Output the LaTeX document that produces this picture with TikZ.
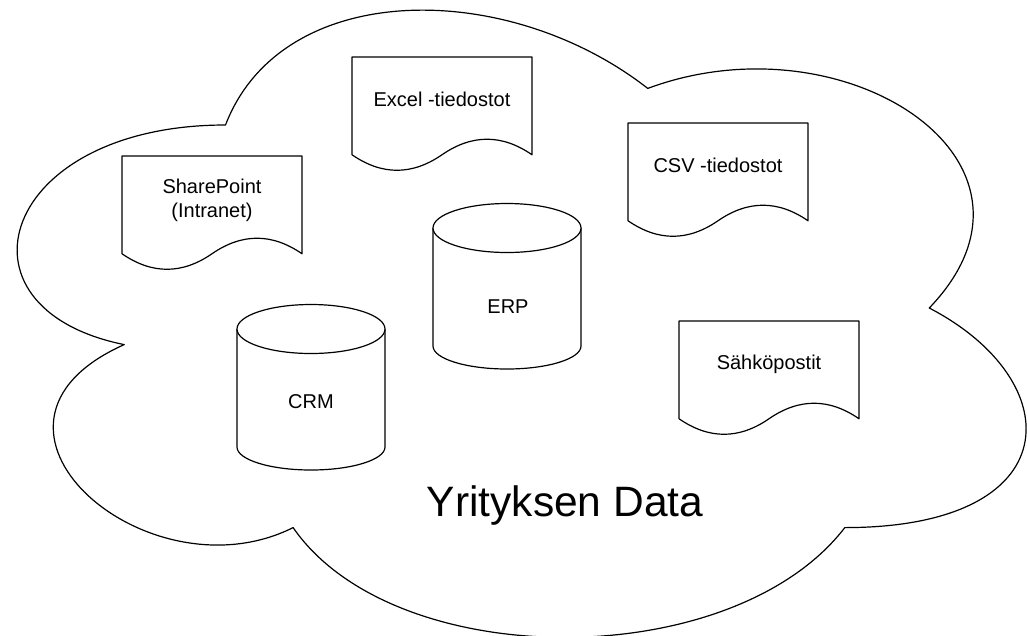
\documentclass[tikz,border=0pt]{standalone}
\usepackage{fontspec}
\setmainfont{Liberation Sans}
\begin{document}
\begin{tikzpicture}[x=1pt,y=-1pt,
  outline/.style={draw=black,line width=1.2pt,fill=white,line join=round},
  label/.style={inner sep=0pt,font=\fontsize{20}{24}\selectfont,align=center},
  biglabel/.style={inner sep=0pt,font=\fontsize{42.5}{50}\selectfont}]
\useasboundingbox (0,0) rectangle (1027,635);

% cloud outline
\draw[outline] (225.5,125)
  .. controls (0.3,125) and (-56,308) .. (124.2,344.6)
  .. controls (-56,425.1) and (146.7,600.8) .. (293.1,527.6)
  .. controls (394.4,674) and (732.2,674) .. (844.8,527.6)
  .. controls (1070,527.6) and (1070,381.2) .. (929.25,308)
  .. controls (1070,161.6) and (844.8,15.2) .. (647.75,88.4)
  .. controls (507,-21.4) and (281.8,-21.4) .. (225.5,125) -- cycle;

% document shapes: 180 x 115 with a wavy lower edge
\newcommand{\docshape}[2]{%
  \begin{scope}[shift={(#1,#2)}]
    \draw[outline] (0,0) -- (180,0) -- (180,97.75)
      .. controls (150,77.05) and (120,77.05) .. (90,97.75)
      .. controls (60,118.45) and (30,118.45) .. (0,97.75) -- cycle;
  \end{scope}}
\docshape{352}{57}
\docshape{122}{156}
\docshape{628}{123}
\docshape{679}{321}

% database cylinders: 148 wide, ellipse centres at top+24 and bottom-24
\newcommand{\dbshape}[2]{%
  \begin{scope}[shift={(#1,#2)}]
    \draw[outline] (0,24) -- (0,142)
      arc[start angle=180,end angle=360,x radius=74pt,y radius=23pt]
      -- (148,24);
    \draw[outline] (74,24) ellipse[x radius=74pt,y radius=24.5pt];
  \end{scope}}
\dbshape{433}{204}
\dbshape{237}{305}

% labels (base anchor sits on the last line's baseline)
\node[label,anchor=base] (excel) at (442,106.5) {Excel -tiedostot};
\node[label,anchor=base] (sharepoint) at (212,217) {SharePoint\\(Intranet)};
\node[label,anchor=base] (csv) at (718,172) {CSV -tiedostot};
\node[label,anchor=base] (email) at (769,369) {Sähköpostit};
\node[label,anchor=base] (erp) at (508,313) {ERP};
\node[label,anchor=base] (crm) at (311,408) {CRM};
\node[biglabel,anchor=base] (title) at (565,516) {Yrityksen Data};
\end{tikzpicture}
\end{document}
